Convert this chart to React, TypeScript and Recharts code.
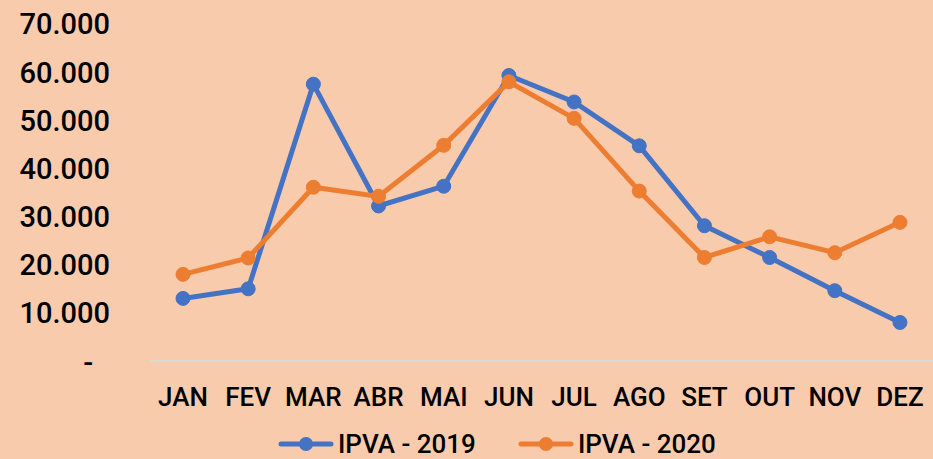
import { LineChart, Line, XAxis, YAxis, Legend } from 'recharts';

const months = ['JAN', 'FEV', 'MAR', 'ABR', 'MAI', 'JUN', 'JUL', 'AGO', 'SET', 'OUT', 'NOV', 'DEZ'];
const ipva2019 = [13000, 15000, 57500, 32200, 36300, 59300, 53800, 44700, 28100, 21500, 14600, 8000];
const ipva2020 = [18000, 21400, 36100, 34200, 44800, 58000, 50400, 35300, 21500, 25800, 22500, 28800];
const yTicks = [0, 10000, 20000, 30000, 40000, 50000, 60000, 70000];

const FONT = "Roboto, 'DejaVu Sans Condensed', sans-serif";
const BLUE = '#4472C4';
const ORANGE = '#ED7D31';

const chartData = months.map((m, i) => ({
  month: m,
  y2019: ipva2019[i],
  y2020: ipva2020[i],
}));

const formatThousands = (v: number) => (v === 0 ? '-' : `${v / 1000}.000`);

function YTick(props: any) {
  const { x, y, payload } = props;
  const zero = payload.value === 0;
  return (
    <text
      x={zero ? x - 17 : x}
      y={zero ? y + 2 : y}
      dy="0.36em"
      textAnchor="end"
      fill="#000"
      fontSize={29}
      fontWeight={500}
      fontFamily={FONT}
    >
      {formatThousands(payload.value)}
    </text>
  );
}

function LegendIcon({ color }: { color: string }) {
  return (
    <svg width={56} height={18} style={{ display: 'block' }}>
      <line x1={3} y1={9} x2={53} y2={9} stroke={color} strokeWidth={5} strokeLinecap="round" />
      <circle cx={28} cy={9} r={7} fill={color} />
    </svg>
  );
}

function renderLegend(props: any) {
  const { payload } = props;
  return (
    <div style={{ display: 'flex', alignItems: 'center', paddingLeft: 278, height: 26 }}>
      {payload.map((entry: any, i: number) => (
        <div
          key={entry.value}
          style={{ display: 'flex', alignItems: 'center', marginRight: i === 0 ? 42 : 0 }}
        >
          <LegendIcon color={entry.color} />
          <span
            style={{
              fontFamily: FONT,
              fontSize: 26,
              fontWeight: 500,
              color: '#000',
              marginLeft: 4,
              lineHeight: '26px',
            }}
          >
            {entry.value}
          </span>
        </div>
      ))}
    </div>
  );
}

export default function App() {
  return (
    <div style={{ width: 933, height: 459, background: '#F8CBAD', overflow: 'hidden' }}>
      <style>{'body{margin:0}'}</style>
      <LineChart
        width={933}
        height={459}
        data={chartData}
        margin={{ top: 24, right: 0, left: 0, bottom: 38 }}
      >
        <XAxis
          dataKey="month"
          interval={0}
          height={60}
          padding={{ left: 33, right: 33 }}
          axisLine={{ stroke: '#D9D9D9', strokeWidth: 2 }}
          tickLine={false}
          tickSize={0}
          tickMargin={27}
          tick={{ fill: '#000', fontSize: 26, fontWeight: 500, fontFamily: FONT }}
        />
        <YAxis
          width={150}
          domain={[0, 70000]}
          ticks={yTicks}
          axisLine={false}
          tickLine={false}
          tickSize={0}
          tickMargin={40}
          tick={<YTick />}
        />
        <Legend
          verticalAlign="middle"
          align="center"
          layout="horizontal"
          wrapperStyle={{ top: 431, left: 0, width: 933 }}
          content={renderLegend}
        />
        <Line
          type="linear"
          dataKey="y2019"
          name="IPVA - 2019"
          stroke={BLUE}
          strokeWidth={5}
          dot={{ r: 7, fill: BLUE, stroke: BLUE, strokeWidth: 1 }}
          isAnimationActive={false}
        />
        <Line
          type="linear"
          dataKey="y2020"
          name="IPVA - 2020"
          stroke={ORANGE}
          strokeWidth={5}
          dot={{ r: 7, fill: ORANGE, stroke: ORANGE, strokeWidth: 1 }}
          isAnimationActive={false}
        />
      </LineChart>
    </div>
  );
}
